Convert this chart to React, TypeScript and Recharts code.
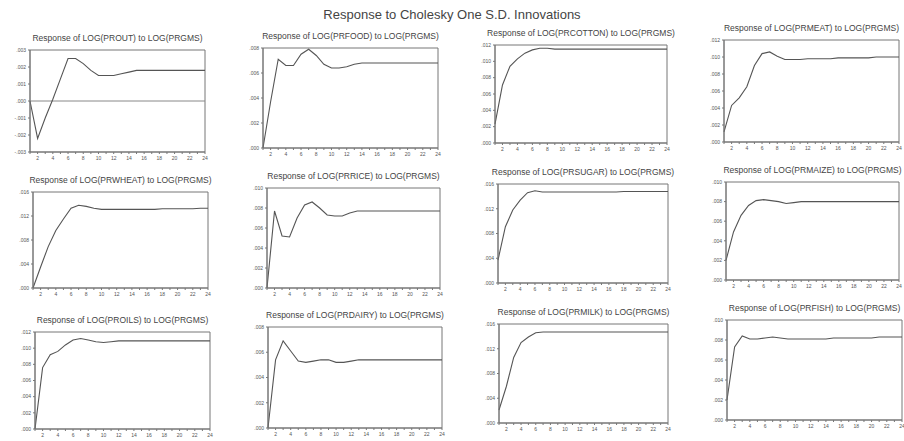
import React from 'react';
import { LineChart, Line, XAxis, YAxis, ReferenceLine, ReferenceArea } from 'recharts';

// periods of the impulse response
const periods = [1, 2, 3, 4, 5, 6, 7, 8, 9, 10, 11, 12, 13, 14, 15, 16, 17, 18, 19, 20, 21, 22, 23, 24];

const mainTitle = 'Response to Cholesky One S.D. Innovations';

const titles = [
  'Response of LOG(PROUT) to LOG(PRGMS)',
  'Response of LOG(PRFOOD) to LOG(PRGMS)',
  'Response of LOG(PRCOTTON) to LOG(PRGMS)',
  'Response of LOG(PRMEAT) to LOG(PRGMS)',
  'Response of LOG(PRWHEAT) to LOG(PRGMS)',
  'Response of LOG(PRRICE) to LOG(PRGMS)',
  'Response of LOG(PRSUGAR) to LOG(PRGMS)',
  'Response of LOG(PRMAIZE) to LOG(PRGMS)',
  'Response of LOG(PROILS) to LOG(PRGMS)',
  'Response of LOG(PRDAIRY) to LOG(PRGMS)',
  'Response of LOG(PRMILK) to LOG(PRGMS)',
  'Response of LOG(PRFISH) to LOG(PRGMS)',
];

const resp1 = [0.0, -0.0022, -0.001, 0.0001, 0.0013, 0.0025, 0.0025, 0.0022, 0.0018, 0.0015, 0.0015, 0.0015, 0.0016, 0.0017, 0.0018, 0.0018, 0.0018, 0.0018, 0.0018, 0.0018, 0.0018, 0.0018, 0.0018, 0.0018];
const resp2 = [0.0, 0.0037, 0.0071, 0.0066, 0.0066, 0.0075, 0.0079, 0.0074, 0.0067, 0.0064, 0.0064, 0.0065, 0.0067, 0.0068, 0.0068, 0.0068, 0.0068, 0.0068, 0.0068, 0.0068, 0.0068, 0.0068, 0.0068, 0.0068];
const resp3 = [0.0023, 0.0071, 0.0094, 0.0103, 0.011, 0.0114, 0.0116, 0.0116, 0.0115, 0.0115, 0.0115, 0.0115, 0.0115, 0.0115, 0.0115, 0.0115, 0.0115, 0.0115, 0.0115, 0.0115, 0.0115, 0.0115, 0.0115, 0.0115];
const resp4 = [0.0012, 0.0043, 0.0052, 0.0065, 0.009, 0.0104, 0.0106, 0.0101, 0.0097, 0.0097, 0.0097, 0.0098, 0.0098, 0.0098, 0.0098, 0.0099, 0.0099, 0.0099, 0.0099, 0.0099, 0.01, 0.01, 0.01, 0.01];
const resp5 = [0.0, 0.0035, 0.0069, 0.0096, 0.0115, 0.0133, 0.0138, 0.0136, 0.0133, 0.0131, 0.0131, 0.0131, 0.0131, 0.0131, 0.0131, 0.0131, 0.0131, 0.0132, 0.0132, 0.0132, 0.0132, 0.0132, 0.0133, 0.0133];
const resp6 = [0.0, 0.0077, 0.0052, 0.0051, 0.007, 0.0083, 0.0086, 0.008, 0.0073, 0.0072, 0.0072, 0.0075, 0.0077, 0.0077, 0.0077, 0.0077, 0.0077, 0.0077, 0.0077, 0.0077, 0.0077, 0.0077, 0.0077, 0.0077];
const resp7 = [0.0037, 0.0091, 0.0118, 0.0134, 0.0146, 0.0149, 0.0147, 0.0147, 0.0147, 0.0147, 0.0147, 0.0147, 0.0147, 0.0147, 0.0147, 0.0147, 0.0147, 0.0148, 0.0148, 0.0148, 0.0148, 0.0148, 0.0148, 0.0148];
const resp8 = [0.002, 0.0049, 0.0066, 0.0076, 0.0081, 0.0082, 0.0081, 0.008, 0.0078, 0.0079, 0.008, 0.008, 0.008, 0.008, 0.008, 0.008, 0.008, 0.008, 0.008, 0.008, 0.008, 0.008, 0.008, 0.008];
const resp9 = [0.0, 0.0076, 0.0092, 0.0096, 0.0104, 0.011, 0.0112, 0.011, 0.0108, 0.0107, 0.0108, 0.0109, 0.0109, 0.0109, 0.0109, 0.0109, 0.0109, 0.0109, 0.0109, 0.0109, 0.0109, 0.0109, 0.0109, 0.0109];
const resp10 = [0.0, 0.0054, 0.0069, 0.0061, 0.0053, 0.0052, 0.0053, 0.0054, 0.0054, 0.0052, 0.0052, 0.0053, 0.0054, 0.0054, 0.0054, 0.0054, 0.0054, 0.0054, 0.0054, 0.0054, 0.0054, 0.0054, 0.0054, 0.0054];
const resp11 = [0.0021, 0.0059, 0.0106, 0.013, 0.0139, 0.0146, 0.0147, 0.0147, 0.0147, 0.0147, 0.0147, 0.0147, 0.0147, 0.0147, 0.0147, 0.0147, 0.0147, 0.0147, 0.0147, 0.0147, 0.0147, 0.0147, 0.0147, 0.0147];
const resp12 = [0.002, 0.0073, 0.0084, 0.0081, 0.0081, 0.0082, 0.0083, 0.0082, 0.0081, 0.0081, 0.0081, 0.0081, 0.0081, 0.0081, 0.0082, 0.0082, 0.0082, 0.0082, 0.0082, 0.0082, 0.0083, 0.0083, 0.0083, 0.0083];

// y tick labels for each panel
const ticksA = [-0.003, -0.002, -0.001, 0.0, 0.001, 0.002, 0.003];
const ticksB = [0.0, 0.002, 0.004, 0.006, 0.008];
const ticksC = [0.0, 0.002, 0.004, 0.006, 0.008, 0.01, 0.012];
const ticksD = [0.0, 0.004, 0.008, 0.012, 0.016];
const ticksE = [0.0, 0.002, 0.004, 0.006, 0.008, 0.01];

const series = [resp1, resp2, resp3, resp4, resp5, resp6, resp7, resp8, resp9, resp10, resp11, resp12];
const yTicks = [ticksA, ticksB, ticksC, ticksC, ticksD, ticksE, ticksD, ticksE, ticksC, ticksB, ticksD, ticksE];

// plot frame boxes on the page: left, top, right, bottom
const frames = [
  [30, 50, 205, 152], [263, 48, 438, 148], [495, 45, 667, 143], [724, 40, 899, 142],
  [33, 192, 208, 288], [267, 188, 440, 288], [498, 184, 668, 283], [726, 182, 899, 280],
  [35, 332, 210, 429], [268, 327, 442, 428], [499, 324, 668, 423], [727, 320, 902, 420],
];

const FONT = '"Liberation Sans", Arial, sans-serif';
const AXIS = '#777';

const fmt = (v: number) => {
  const s = Math.abs(v).toFixed(3).replace(/^0/, '');
  return v < 0 ? '-' + s : s;
};

function Panel({ index }: { index: number }) {
  const [l, t, r, b] = frames[index];
  const w = r - l;
  const h = b - t;
  const ticks = yTicks[index];
  const yMin = ticks[0];
  const yMax = ticks[ticks.length - 1];
  const data = periods.map((p, i) => ({ period: p, value: series[index][i] }));
  const yW = 26;
  const mTop = 4;
  const mRight = 6;

  return (
    <>
      <div
        style={{
          position: 'absolute', left: l - 30, width: w + 60, top: t - 17,
          textAlign: 'center', fontSize: 8.5, color: '#444', fontFamily: FONT, whiteSpace: 'nowrap',
        }}
      >
        {titles[index]}
      </div>
      <div style={{ position: 'absolute', left: l - yW, top: t - mTop }}>
        <LineChart
          width={w + yW + mRight}
          height={h + mTop + 12}
          data={data}
          margin={{ top: mTop, right: mRight, bottom: 0, left: 0 }}
        >
          <XAxis
            dataKey="period"
            type="number"
            domain={[1, 24]}
            ticks={periods}
            interval={0}
            tickFormatter={(p: number) => (p % 2 === 0 ? String(p) : '')}
            tickSize={2}
            height={12}
            stroke={AXIS}
            tick={{ fontSize: 5, fill: '#555', fontFamily: FONT }}
          />
          <YAxis
            type="number"
            domain={[yMin, yMax]}
            ticks={ticks}
            interval={0}
            tickFormatter={fmt}
            tickSize={2}
            width={yW}
            stroke={AXIS}
            tick={{ fontSize: 5, fill: '#555', fontFamily: FONT }}
          />
          <ReferenceArea x1={1} x2={24} y1={yMin} y2={yMax} fill="none" stroke={AXIS} strokeWidth={1} ifOverflow="visible" />
          {yMin < 0 && <ReferenceLine y={0} stroke="#888" strokeWidth={1} />}
          <Line type="linear" dataKey="value" stroke="#555" strokeWidth={1.1} dot={false} isAnimationActive={false} />
        </LineChart>
      </div>
    </>
  );
}

export default function App() {
  return (
    <div style={{ position: 'absolute', left: 0, top: 0, width: 904, height: 441, background: '#fff', overflow: 'hidden' }}>
      <div
        style={{
          position: 'absolute', left: 0, width: 904, top: 7, textAlign: 'center',
          fontSize: 13, color: '#444', fontFamily: FONT,
        }}
      >
        {mainTitle}
      </div>
      {frames.map((_, i) => (
        <Panel key={i} index={i} />
      ))}
    </div>
  );
}
